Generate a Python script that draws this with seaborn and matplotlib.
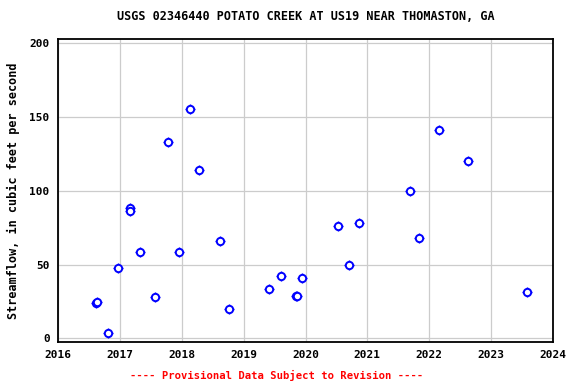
import matplotlib
matplotlib.use("Agg")
import matplotlib.pyplot as plt
import seaborn as sns
import pandas as pd

years = [2016.62, 2016.63, 2016.81, 2016.97, 2017.16, 2017.16, 2017.32, 2017.56, 2017.78,
         2017.96, 2018.14, 2018.28, 2018.62, 2018.77, 2019.41, 2019.61, 2019.85, 2019.86,
         2019.95, 2020.53, 2020.71, 2020.87, 2021.69, 2021.84, 2022.15, 2022.63, 2023.58]
flow = [23.9, 24.5, 3.8, 47.8, 88.3, 86.5, 58.6, 28.2, 132.9,
        58.6, 155.2, 114.0, 66.0, 20.0, 33.6, 42.4, 28.6, 29.0,
        41.0, 76.1, 49.8, 78.2, 99.8, 68.0, 141.0, 120.0, 31.5]
xticks = [2016, 2017, 2018, 2019, 2020, 2021, 2022, 2023, 2024]
yticks = [0, 50, 100, 150, 200]

df = pd.DataFrame({"year": years, "flow": flow})

sns.set_theme(style="whitegrid")
plt.rcParams['font.family'] = ['DejaVu Sans Mono']
plt.rcParams['font.weight'] = 'bold'
plt.rcParams['text.color'] = 'black'

fig = plt.figure(figsize=(5.76, 3.84), dpi=100)
ax = fig.add_axes([58/576, 1-342/384, (553-58)/576, (342-39)/384])

sns.scatterplot(data=df, x="year", y="flow", ax=ax, marker="+", s=60,
                color="blue", linewidth=1.0, zorder=3, legend=False)
sns.scatterplot(data=df, x="year", y="flow", ax=ax, marker="o", s=28,
                facecolor="white", edgecolor="blue", linewidth=1.4, zorder=4, legend=False)

ax.set_xlim(2016, 2024)
ax.set_ylim(-2.5, 203)
ax.set_xticks(xticks)
ax.set_xticklabels([str(t) for t in xticks], fontsize=8, fontweight='bold', color='black')
ax.set_yticks(yticks)
ax.set_yticklabels([str(t) for t in yticks], fontsize=8, fontweight='bold', color='black')
ax.grid(True, color="#cccccc", linewidth=0.9)
for s in ax.spines.values():
    s.set_color("black")
    s.set_linewidth(1.3)
ax.tick_params(axis='both', length=0, pad=6, colors='black')
ax.set_xlabel("")
ax.set_ylabel("Streamflow, in cubic feet per second", fontsize=8.5, fontweight='bold',
              labelpad=7, color='black')
ax.set_title("USGS 02346440 POTATO CREEK AT US19 NEAR THOMASTON, GA", fontsize=8.5,
             fontweight='bold', pad=14, color='black')
fig.text(277/576, 1-375/384, "---- Provisional Data Subject to Revision ----", color="red",
         ha="center", va="center", fontsize=7.6, fontweight='bold')

fig.savefig("out.png", dpi=100)
